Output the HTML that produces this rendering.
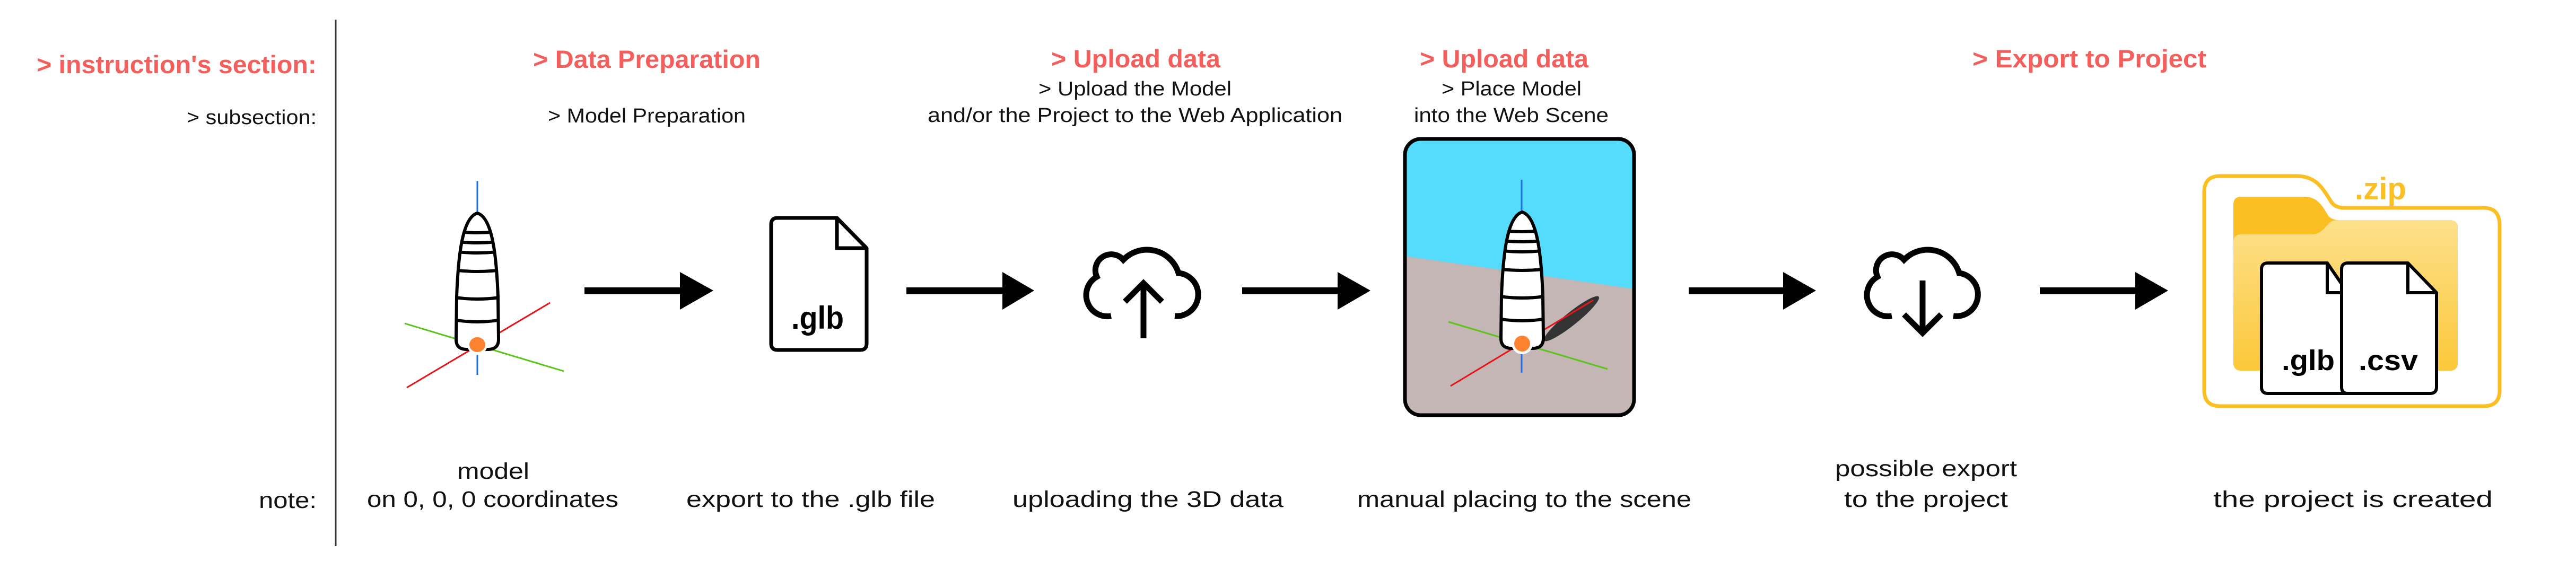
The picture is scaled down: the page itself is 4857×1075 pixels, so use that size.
<!DOCTYPE html>
<html><head><meta charset="utf-8"><style>
html,body{margin:0;padding:0;background:#fff;}
svg{display:block;}
text{font-family:"Liberation Sans",sans-serif;}
.r{fill:#F25F5C;font-weight:bold;font-size:47px;}
.s{fill:#111;font-size:38px;}
.n{fill:#111;font-size:43px;}
</style></head><body>
<svg width="4857" height="1075" viewBox="0 0 4857 1075" xmlns="http://www.w3.org/2000/svg">
<defs>
<clipPath id="b1"><path d="M900,402 C872,410 864,480 861,560 L860,640 Q860,659 880,659 L920,659 Q940,659 940,640 L939,560 C936,480 928,410 900,402 Z"/></clipPath>
<clipPath id="card"><rect x="2649" y="262" width="432" height="521" rx="30"/></clipPath>
<linearGradient id="fg" x1="0" y1="0" x2="0" y2="1"><stop offset="0" stop-color="#FDE08A"/><stop offset="1" stop-color="#FCC83A"/></linearGradient>
<g id="body">
<path d="M900,402 C872,410 864,480 861,560 L860,640 Q860,659 880,659 L920,659 Q940,659 940,640 L939,560 C936,480 928,410 900,402 Z" fill="#fff"/>
<g clip-path="url(#b1)" stroke="#000" stroke-width="6" fill="none">
<path d="M840,434 Q900,444 960,434"/><path d="M840,453 Q900,463 960,453"/><path d="M840,472 Q900,482 960,472"/><path d="M840,507 Q900,517 960,507"/><path d="M840,558 Q900,570 960,558"/><path d="M840,600 Q900,614 960,600"/>
</g>
<path d="M900,402 C872,410 864,480 861,560 L860,640 Q860,659 880,659 L920,659 Q940,659 940,640 L939,560 C936,480 928,410 900,402 Z" fill="none" stroke="#000" stroke-width="6"/>
</g>
</defs>

<!-- left labels -->
<line x1="633" y1="37" x2="633" y2="1030" stroke="#333" stroke-width="3"/>
<text class="r" x="69" y="138" textLength="528" lengthAdjust="spacingAndGlyphs">&gt; instruction's section:</text>
<text class="s" x="352" y="234" textLength="245" lengthAdjust="spacingAndGlyphs">&gt; subsection:</text>
<text class="n" x="488" y="958" textLength="109" lengthAdjust="spacingAndGlyphs">note:</text>

<!-- headings -->
<text class="r" x="1005" y="128" textLength="429" lengthAdjust="spacingAndGlyphs">&gt; Data Preparation</text>
<text class="s" x="1033" y="231" textLength="373" lengthAdjust="spacingAndGlyphs">&gt; Model Preparation</text>
<text class="r" x="1982" y="127" textLength="319" lengthAdjust="spacingAndGlyphs">&gt; Upload data</text>
<text class="s" x="1958" y="180" textLength="364" lengthAdjust="spacingAndGlyphs">&gt; Upload the Model</text>
<text class="s" x="1749" y="230" textLength="782" lengthAdjust="spacingAndGlyphs">and/or the Project to the Web Application</text>
<text class="r" x="2677" y="127" textLength="318" lengthAdjust="spacingAndGlyphs">&gt; Upload data</text>
<text class="s" x="2718" y="180" textLength="264" lengthAdjust="spacingAndGlyphs">&gt; Place Model</text>
<text class="s" x="2666" y="230" textLength="367" lengthAdjust="spacingAndGlyphs">into the Web Scene</text>
<text class="r" x="3719" y="127" textLength="441" lengthAdjust="spacingAndGlyphs">&gt; Export to Project</text>

<!-- notes -->
<text class="n" x="862" y="903" textLength="136" lengthAdjust="spacingAndGlyphs">model</text>
<text class="n" x="692" y="956" textLength="474" lengthAdjust="spacingAndGlyphs">on 0, 0, 0 coordinates</text>
<text class="n" x="1294" y="956" textLength="469" lengthAdjust="spacingAndGlyphs">export to the .glb file</text>
<text class="n" x="1909" y="956" textLength="511" lengthAdjust="spacingAndGlyphs">uploading the 3D data</text>
<text class="n" x="2559" y="956" textLength="630" lengthAdjust="spacingAndGlyphs">manual placing to the scene</text>
<text class="n" x="3460" y="898" textLength="343" lengthAdjust="spacingAndGlyphs">possible export</text>
<text class="n" x="3477" y="956" textLength="309" lengthAdjust="spacingAndGlyphs">to the project</text>
<text class="n" x="4173" y="956" textLength="527" lengthAdjust="spacingAndGlyphs">the project is created</text>

<!-- model 1 -->
<line x1="900" y1="341" x2="900" y2="707" stroke="#1E6FE8" stroke-width="3"/>
<line x1="763" y1="610" x2="1063" y2="700" stroke="#5BC41A" stroke-width="3"/>
<line x1="767" y1="731" x2="1037" y2="571" stroke="#E8141B" stroke-width="3"/>
<use href="#body"/>
<circle cx="900" cy="650" r="19" fill="#fff"/>
<ellipse cx="900" cy="650" rx="15" ry="14" fill="#FF8230"/>

<!-- arrows -->
<g fill="#000">
<rect x="1102" y="542" width="182" height="13"/><polygon points="1282,513 1345,548 1282,584"/>
<rect x="1709" y="542" width="183" height="13"/><polygon points="1890,513 1950,548 1890,584"/>
<rect x="2342" y="542" width="182" height="13"/><polygon points="2522,513 2584,548 2522,584"/>
<rect x="3184" y="542" width="180" height="13"/><polygon points="3362,513 3424,548 3362,584"/>
<rect x="3846" y="542" width="182" height="13"/><polygon points="4026,513 4088,548 4026,584"/>
</g>

<!-- glb file -->
<path d="M1466,411 L1578,411 L1634,468 L1634,648 Q1634,660 1622,660 L1466,660 Q1454,660 1454,648 L1454,423 Q1454,411 1466,411 Z" fill="#fff" stroke="#000" stroke-width="7" stroke-linejoin="round"/>
<path d="M1578,411 L1578,468 L1634,468" fill="none" stroke="#000" stroke-width="7"/>
<text x="1492" y="620" font-size="60" font-weight="bold" fill="#000" textLength="99" lengthAdjust="spacingAndGlyphs">.glb</text>

<!-- upload cloud -->
<path d="M2095,596 A40,40 0 0 1 2068,522 A30,30 0 0 1 2118,490 A62,62 0 0 1 2222,515 A40,40 0 0 1 2215,596" fill="none" stroke="#000" stroke-width="11"/>
<path d="M2156,638 L2156,534 M2121,569 L2156,534 L2191,569" fill="none" stroke="#000" stroke-width="11"/>

<!-- scene card -->
<g clip-path="url(#card)">
<rect x="2649" y="262" width="432" height="521" fill="#55DCFC"/>
<polygon points="2649,483 3081,545 3081,783 2649,783" fill="#C4B6B4"/>
</g>
<rect x="2649" y="262" width="432" height="521" rx="30" fill="none" stroke="#000" stroke-width="7"/>
<line x1="2869" y1="339" x2="2869" y2="703" stroke="#1E6FE8" stroke-width="3"/>
<ellipse cx="2963" cy="601" rx="66" ry="12" transform="rotate(-38.8 2963 601)" fill="#333"/>
<line x1="2731" y1="607" x2="3031" y2="696" stroke="#5BC41A" stroke-width="3"/>
<line x1="2735" y1="728" x2="3004" y2="566" stroke="#E8141B" stroke-width="3"/>
<g transform="translate(1970,-2)"><use href="#body"/></g>
<circle cx="2870" cy="648" r="20" fill="#fff"/>
<circle cx="2870" cy="648" r="15" fill="#FF8230"/>

<!-- download cloud -->
<path d="M3567,596 A40,40 0 0 1 3540,522 A30,30 0 0 1 3590,490 A62,62 0 0 1 3694,515 A40,40 0 0 1 3683,596" fill="none" stroke="#000" stroke-width="11"/>
<path d="M3625,529 L3625,625 M3590,593 L3625,628 L3660,593" fill="none" stroke="#000" stroke-width="11"/>

<!-- zip folder -->
<path d="M4186,332 L4330,332 C4365,332 4378,352 4395,380 Q4403,392 4420,392 L4683,392 Q4713,392 4713,425 L4713,736 Q4713,766 4683,766 L4186,766 Q4156,766 4156,736 L4156,362 Q4156,332 4186,332 Z" fill="#fff" stroke="#FBBF24" stroke-width="7"/>
<text x="4440" y="376" font-size="58" font-weight="bold" fill="#FBBF24" textLength="97" lengthAdjust="spacingAndGlyphs">.zip</text>
<path d="M4226,371 L4345,371 C4370,371 4380,390 4390,407 Q4397,415 4410,415 L4619,415 Q4634,415 4634,430 L4634,684 Q4634,699 4619,699 L4226,699 Q4211,699 4211,684 L4211,386 Q4211,371 4226,371 Z" fill="#FBBF24"/>
<path d="M4211,457 Q4211,442 4226,442 L4360,442 C4378,442 4385,425 4395,418 Q4400,415 4410,415 L4619,415 Q4634,415 4634,430 L4634,684 Q4634,699 4619,699 L4226,699 Q4211,699 4211,684 Z" fill="url(#fg)"/>
<path d="M4276,496 L4388,496 L4425,550 L4425,742 L4276,742 Q4264,742 4264,730 L4264,508 Q4264,496 4276,496 Z" fill="#fff" stroke="#000" stroke-width="6" stroke-linejoin="round"/>
<path d="M4388,496 L4388,552 L4425,552" fill="none" stroke="#000" stroke-width="6"/>
<text x="4302" y="698" font-size="54" font-weight="bold" fill="#000" textLength="100" lengthAdjust="spacingAndGlyphs">.glb</text>
<path d="M4427,496 L4540,496 L4594,552 L4594,730 Q4594,742 4582,742 L4427,742 Q4415,742 4415,730 L4415,508 Q4415,496 4427,496 Z" fill="#fff" stroke="#000" stroke-width="6" stroke-linejoin="round"/>
<path d="M4540,496 L4540,552 L4594,552" fill="none" stroke="#000" stroke-width="6"/>
<text x="4447" y="698" font-size="54" font-weight="bold" fill="#000" textLength="112" lengthAdjust="spacingAndGlyphs">.csv</text>
</svg>
</body></html>
